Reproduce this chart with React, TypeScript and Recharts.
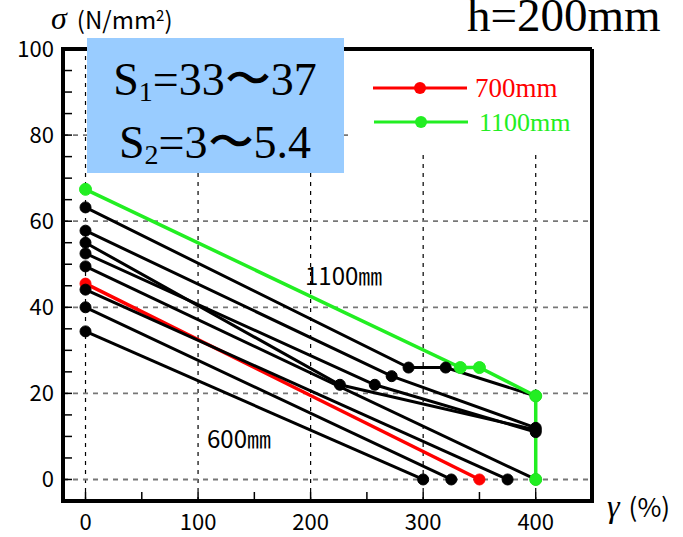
import React from 'react';
import { LineChart, Line, XAxis, YAxis, ReferenceLine } from 'recharts';

// paths: [gamma (%), sigma (N/mm2)]
const green1100: [number, number][] = [[0, 67.4], [333, 26], [350, 26], [400, 19.4], [400, 0]];
const red700: [number, number][] = [[0, 45.5], [350, 0]];
const blk63: [number, number][] = [[0, 63.2], [287, 26], [320, 26], [400, 19.4]];
const blk58: [number, number][] = [[0, 57.8], [272, 24], [400, 12]];
const blk55: [number, number][] = [[0, 55], [226, 22], [400, 11.5]];
const blk52: [number, number][] = [[0, 52.5], [257, 22], [400, 11]];
const blk49: [number, number][] = [[0, 49.5], [400, 0]];
const blk44: [number, number][] = [[0, 44.1], [375, 0]];
const blk40: [number, number][] = [[0, 40], [325, 0]];
const blk34: [number, number][] = [[0, 34.4], [300, 0]];

const xTicks = [0, 50, 100, 150, 200, 250, 300, 350, 400];
const yTicks = [0, 5, 10, 15, 20, 25, 30, 35, 40, 45, 50, 55, 60, 65, 70, 75, 80, 85, 90, 95, 100];
const gridX = [0, 100, 200, 300, 400];
const gridY = [0, 20, 40, 60, 80];

const toPts = (p: [number, number][]) => p.map(([g, s]) => ({ g, s }));

const SANS = '"Noto Sans CJK JP", "Noto Sans", sans-serif';
const SERIF = '"Liberation Serif", "Times New Roman", serif';

function XTick(props: any) {
  const { x, y, payload } = props;
  const v = payload.value as number;
  return (
    <g>
      <line x1={x} x2={x} y1={y} y2={y - 9} stroke="#000" strokeWidth={1.5} />
      {v % 100 === 0 && (
        <text x={x} y={y + 29} textAnchor="middle" fontSize={22} fontFamily={SANS} fill="#000">
          {v}
        </text>
      )}
    </g>
  );
}

function YTick(props: any) {
  const { x, y, payload } = props;
  const v = payload.value as number;
  return (
    <g>
      <line x1={x} x2={x + 9} y1={y} y2={y} stroke="#000" strokeWidth={1.5} />
      {v % 20 === 0 && (
        <text x={x - 9} y={y + 8} textAnchor="end" fontSize={22} fontFamily={SANS} fill="#000">
          {v}
        </text>
      )}
    </g>
  );
}

function blackLine(key: string, pts: [number, number][]) {
  return (
    <Line
      key={key}
      data={toPts(pts)}
      dataKey="s"
      stroke="#000"
      strokeWidth={3}
      dot={{ r: 5.5, fill: '#000', stroke: '#000', strokeWidth: 1 }}
      activeDot={false}
      isAnimationActive={false}
    />
  );
}

export default function App() {
  return (
    <div style={{ position: 'absolute', left: 0, top: 0, width: 683, height: 537, background: '#fff', overflow: 'hidden' }}>
      <LineChart width={683} height={537} margin={{ top: 49, right: 91, bottom: 0, left: 0 }}>
        <XAxis
          type="number"
          dataKey="g"
          domain={[-20, 450]}
          ticks={xTicks}
          interval={0}
          allowDataOverflow
          height={36}
          tickSize={0}
          tickMargin={0}
          tickLine={false}
          tick={XTick}
          axisLine={{ stroke: '#000', strokeWidth: 4, strokeLinecap: 'square' }}
        />
        <YAxis
          type="number"
          domain={[-5, 100]}
          ticks={yTicks}
          interval={0}
          allowDataOverflow
          width={63}
          tickSize={0}
          tickMargin={0}
          tickLine={false}
          tick={YTick}
          axisLine={{ stroke: '#000', strokeWidth: 4, strokeLinecap: 'square' }}
        />
        {gridX.map((v) => (
          <ReferenceLine key={'gx' + v} x={v} stroke="#000" strokeWidth={1.2} strokeDasharray="4 5" />
        ))}
        {gridY.map((v) => (
          <ReferenceLine key={'gy' + v} y={v} stroke="#777" strokeWidth={1.8} strokeDasharray="5 5" />
        ))}
        <ReferenceLine y={100} stroke="#000" strokeWidth={4} />
        <ReferenceLine x={450} stroke="#000" strokeWidth={4} />

        <Line
          data={toPts(red700)}
          dataKey="s"
          stroke="#ff0000"
          strokeWidth={3.5}
          dot={{ r: 5.5, fill: '#ff0000', stroke: '#ff0000', strokeWidth: 1 }}
          activeDot={false}
          isAnimationActive={false}
        />
        {blackLine('b34', blk34)}
        {blackLine('b40', blk40)}
        {blackLine('b44', blk44)}
        {blackLine('b49', blk49)}
        {blackLine('b63', blk63)}
        <Line
          data={toPts(green1100)}
          dataKey="s"
          stroke="#22ee22"
          strokeWidth={3.5}
          dot={{ r: 6, fill: '#22ee22', stroke: '#22ee22', strokeWidth: 1 }}
          activeDot={false}
          isAnimationActive={false}
        />
        {blackLine('b52', blk52)}
        {blackLine('b55', blk55)}
        {blackLine('b58', blk58)}
      </LineChart>

      <svg
        width={683}
        height={537}
        style={{ position: 'absolute', left: 0, top: 0, pointerEvents: 'none' }}
      >
        {/* axis titles */}
        <text x={51} y={29} fill="#000">
          <tspan fontFamily={SERIF} fontStyle="italic" fontSize={32}>σ</tspan>
          <tspan dx={10} fontFamily={SANS} fontSize={24}>(N/mm</tspan>
          <tspan fontFamily={SANS} fontSize={15} dy={-8}>2</tspan>
          <tspan fontFamily={SANS} fontSize={24} dy={8}>)</tspan>
        </text>
        <text x={607} y={517} fill="#000">
          <tspan fontFamily={SERIF} fontStyle="italic" fontSize={32}>γ</tspan>
          <tspan dx={9} fontFamily={SANS} fontSize={26}>(%)</tspan>
        </text>

        {/* title, cut at the right edge like the source */}
        <text x={467} y={31} fontFamily={SERIF} fontSize={47} fill="#000">h=200mm</text>

        {/* parameter box */}
        <rect x={87} y={38} width={257} height={135} fill="#99ccff" />
        <text x={215} y={95} textAnchor="middle" fontFamily={SERIF} fontSize={46} fill="#000">
          S<tspan fontSize={28} dy={6}>1</tspan>
          <tspan dy={-6}>=33〜37</tspan>
        </text>
        <text x={215} y={158} textAnchor="middle" fontFamily={SERIF} fontSize={46} fill="#000">
          S<tspan fontSize={28} dy={6}>2</tspan>
          <tspan dy={-6}>=3〜5.4</tspan>
        </text>

        {/* legend */}
        <rect x={350} y={56} width={239} height={96} fill="#fff" />
        <line x1={373} x2={467} y1={88} y2={88} stroke="#ff0000" strokeWidth={3} />
        <circle cx={420} cy={88} r={6} fill="#ff0000" />
        <text x={475} y={97} fontFamily={SERIF} fontSize={27} fill="#ff0000">700mm</text>
        <line x1={374} x2={468} y1={122} y2={122} stroke="#22ee22" strokeWidth={3} />
        <circle cx={421} cy={122} r={6} fill="#22ee22" />
        <text x={479} y={131} fontFamily={SERIF} fontSize={26} fill="#22ee22">1100mm</text>

        {/* in-plot notes */}
        <text x={305} y={285} fontFamily={SANS} fontSize={24} fill="#000">1100㎜</text>
        <text x={207} y={448} fontFamily={SANS} fontSize={24} fill="#000">600㎜</text>
      </svg>
    </div>
  );
}
